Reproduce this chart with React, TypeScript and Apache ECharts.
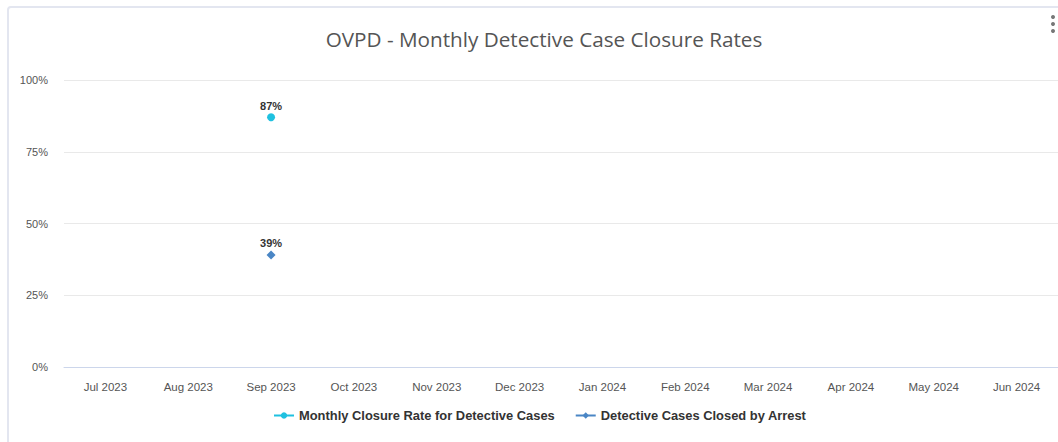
import React, { useEffect, useRef } from "react";
import * as echarts from "echarts";

const categories = [
  "Jul 2023", "Aug 2023", "Sep 2023", "Oct 2023", "Nov 2023", "Dec 2023",
  "Jan 2024", "Feb 2024", "Mar 2024", "Apr 2024", "May 2024", "Jun 2024",
];
const closureRate: (number | null)[] = [null, null, 87, null, null, null, null, null, null, null, null, null];
const closedByArrest: (number | null)[] = [null, null, 39, null, null, null, null, null, null, null, null, null];
const yTicks = [0, 25, 50, 75, 100];

export default function App() {
  const ref = useRef<HTMLDivElement>(null);
  useEffect(() => {
    if (!ref.current) return;
    const chart = echarts.init(ref.current, undefined, { renderer: "svg" });
    const labelStyle = {
      show: true,
      position: "top" as const,
      distance: 2,
      formatter: (p: any) => `${p.value}%`,
      color: "#333",
      fontWeight: "bold" as const,
      fontSize: 11,
      fontFamily: "Liberation Sans, Arial, sans-serif",
    };
    chart.setOption({
      animation: false,
      backgroundColor: "transparent",
      title: {
        text: "OVPD - Monthly Detective Case Closure Rates",
        left: 539,
        textAlign: "center",
        top: 23,
        textStyle: {
          fontFamily: "Open Sans, Noto Sans, sans-serif",
          fontSize: 20.7,
          fontWeight: "normal",
          color: "#555",
        },
      },
      grid: { left: 64, right: -6, top: 80, bottom: 75, containLabel: false },
      xAxis: {
        type: "category",
        data: categories,
        boundaryGap: true,
        axisLine: { lineStyle: { color: "#ccd6eb" } },
        axisTick: { show: false },
        axisLabel: {
          color: "#555",
          fontSize: 11.5,
          fontFamily: "Liberation Sans, Arial, sans-serif",
          margin: 14,
        },
      },
      yAxis: {
        type: "value",
        min: yTicks[0],
        max: yTicks[yTicks.length - 1],
        interval: 25,
        axisLine: { show: false },
        axisTick: { show: false },
        splitLine: { lineStyle: { color: "#e9e9e9" } },
        axisLabel: {
          formatter: "{value}%",
          color: "#555",
          fontSize: 11,
          fontFamily: "Liberation Sans, Arial, sans-serif",
          margin: 16,
        },
      },
      legend: {
        bottom: 15,
        left: 268,
        orient: "horizontal",
        itemGap: 20,
        itemWidth: 20,
        itemHeight: 8,
        textStyle: {
          color: "#333",
          fontWeight: "bold",
          fontSize: 12.9,
          fontFamily: "Liberation Sans, Arial, sans-serif",
        },
      },
      graphic: [
        { type: "circle", shape: { cx: 1053, cy: 17, r: 2 }, style: { fill: "#777" } },
        { type: "circle", shape: { cx: 1053, cy: 24, r: 2 }, style: { fill: "#777" } },
        { type: "circle", shape: { cx: 1053, cy: 31, r: 2 }, style: { fill: "#777" } },
      ],
      series: [
        {
          name: "Monthly Closure Rate for Detective Cases",
          type: "line",
          data: closureRate,
          symbol: "circle",
          symbolSize: 8,
          itemStyle: { color: "#1fc1e0" },
          lineStyle: { color: "#1fc1e0", width: 2 },
          label: labelStyle,
        },
        {
          name: "Detective Cases Closed by Arrest",
          type: "line",
          data: closedByArrest,
          symbol: "diamond",
          symbolSize: 9,
          itemStyle: { color: "#4a86c5" },
          lineStyle: { color: "#4a86c5", width: 2 },
          label: labelStyle,
        },
      ],
    });
    return () => chart.dispose();
  }, []);
  return (
    <div style={{ position: "fixed", left: 0, top: 0, width: 1058, height: 442, overflow: "hidden", background: "#fff" }}>
      <div
        style={{
          position: "absolute",
          left: 7,
          top: 6,
          width: 1100,
          height: 500,
          border: "2px solid #e3e6f0",
          borderRadius: 4,
          boxSizing: "border-box",
        }}
      />
      <div ref={ref} style={{ position: "absolute", left: 0, top: 0, width: 1058, height: 442 }} />
    </div>
  );
}
